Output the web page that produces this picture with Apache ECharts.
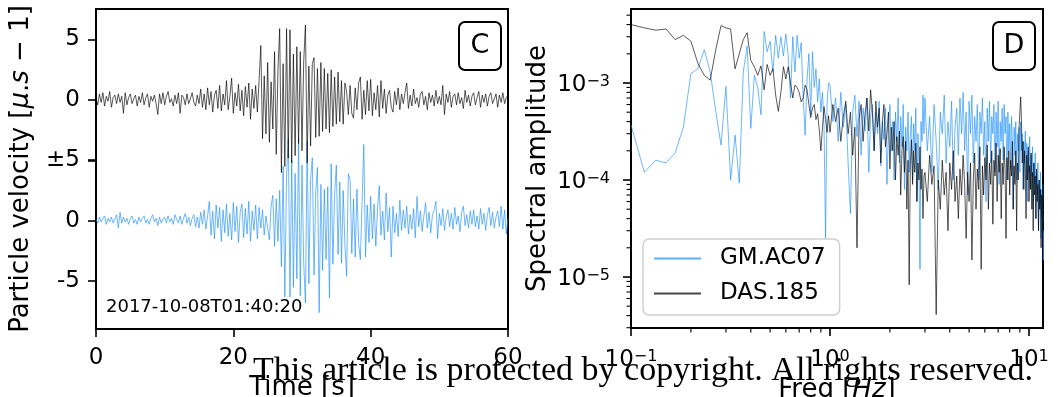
<!DOCTYPE html>
<html><head><meta charset="utf-8">
<script src="https://cdn.jsdelivr.net/npm/echarts@6/dist/echarts.min.js"></script>
<style>html,body{margin:0;padding:0;background:#fff}#chart{width:1058px;height:397px}</style>
</head><body><div id="chart"></div>
<script>
const FONT = 'DejaVu Sans';

// ---- Panel C: waveforms (micro m/s), sampled every TIME_STEP seconds ----
const TIME_STEP = 0.25;
const dasVelocity = [
 0.1,-0.4,0.5,-0.2,0.6,-0.5,0.3,-0.1,0.7,-0.6,0.2,0.4,-0.3,0.5,-0.2,0.3,-1.1,0.6,-0.4,0.2,
 0.5,-0.3,0.1,0.4,-0.5,0.3,-0.2,0.6,-0.4,0.2,0.5,-0.6,0.3,-0.1,0.4,-0.3,-1.2,0.5,-0.3,0.6,
 -0.4,0.3,0.7,-0.2,0.1,-0.5,0.4,-0.3,0.6,-1.1,0.4,0.2,-0.4,0.5,-0.3,0.1,0.6,-0.2,-0.5,0.4,
 -0.3,0.9,-0.6,0.5,-0.8,1.0,-0.4,0.7,-1.0,0.4,0.8,-0.7,1.2,-0.9,0.5,-0.4,1.6,-0.8,0.3,1.8,
 -1.1,0.6,-0.5,1.3,-0.9,0.8,-1.3,1.1,-0.6,1.4,-1.6,0.9,-0.7,1.2,-1.0,1.6,4.5,-3.2,2.0,-2.8,
 3.1,-3.5,1.5,-2.4,4.0,-4.5,2.5,5.9,-6.0,3.0,-5.5,5.9,-4.8,5.8,-5.2,3.8,-4.6,4.4,-3.6,4.0,
 -4.2,3.2,6.2,-5.2,2.8,-3.8,3.0,3.5,-3.1,2.6,-3.0,3.1,-2.6,2.6,-2.4,2.2,-2.7,2.5,-2.2,1.9,
 -2.0,2.3,-1.8,1.6,-2.0,1.4,0.7,-1.2,1.2,-1.1,-1.5,1.0,-0.8,1.4,1.9,-1.6,0.8,-1.2,1.6,-0.9,
 1.7,-1.3,0.6,-0.8,1.2,-1.4,1.6,-0.7,0.9,-1.1,0.4,0.8,-0.6,-1.0,0.7,-0.4,1.0,-0.8,0.5,-0.3,
 0.6,1.4,-0.7,0.4,-0.5,0.9,-0.3,0.2,-0.6,0.5,0.7,-0.4,0.3,-0.8,0.6,-0.2,0.4,-0.5,0.8,-0.3,
 0.3,-0.4,1.2,-1.2,0.5,-0.2,0.7,-0.6,0.3,0.5,-0.4,0.6,-0.3,0.2,-0.7,0.8,-0.2,0.4,-0.5,0.3,
 0.6,-0.4,0.2,0.7,-0.6,0.4,-0.2,0.5,-0.5,0.3,0.6,-0.3,0.1,0.5,-0.6,0.4,-0.2,0.6,-0.3,0.2,0.4
];
const gmVelocity = [
 0.1,-0.2,0.3,-0.1,0.2,0.4,-0.3,0.2,-0.1,0.3,-0.2,0.1,0.5,-0.6,0.7,-0.2,0.3,-0.1,0.2,-0.3,
 0.2,0.4,-0.2,0.1,-0.3,0.3,-0.1,0.2,0.4,-0.2,0.1,-0.3,0.2,0.5,-0.1,0.2,-0.4,0.3,-0.2,0.1,
 0.3,-0.2,0.4,-0.1,0.2,-0.3,0.5,0.1,-0.2,0.4,-0.3,0.2,0.6,-0.2,0.3,-0.4,0.2,0.5,-0.5,0.3,
 -0.6,0.7,-0.3,0.9,-0.7,0.4,1.6,-1.2,0.8,-1.5,1.3,-0.6,1.1,-1.7,0.9,-1.0,1.4,-1.3,0.6,-1.6,
 1.5,-0.9,1.2,-1.8,0.7,1.4,-1.4,1.0,-1.1,1.6,-1.7,0.8,-0.8,1.3,-1.5,1.1,-0.6,0.9,-1.2,0.4,
 0.5,-1.6,1.2,2.1,-2.1,1.8,-1.7,2.5,-3.8,4.5,-6.3,3.6,6.8,-6.3,5.0,-5.5,3.9,-4.8,6.8,-6.2,
 4.6,-3.5,-6.8,6.6,-5.2,3.4,5.2,-4.5,2.4,4.4,-7.6,3.0,-4.1,2.6,-3.2,2.8,-6.4,4.7,-3.6,2.2,
 4.6,-2.8,3.2,-3.5,2.5,-2.0,-4.6,3.9,3.4,-2.7,1.8,-3.0,2.6,-1.9,-3.2,1.6,6.3,-3.0,1.3,-1.8,
 2.0,-1.5,1.4,-2.1,1.0,2.9,-1.2,0.8,-1.6,2.3,-0.9,1.1,-3.0,1.2,-1.0,0.6,-1.3,1.7,-0.8,0.9,
 -0.6,1.2,-1.1,0.5,-0.7,1.0,-1.4,2.0,-0.5,0.8,-0.9,0.4,1.5,-0.6,0.7,-1.0,0.5,0.9,1.6,-1.5,
 0.6,-0.4,1.0,-0.8,0.3,0.9,-0.5,0.6,-0.7,1.1,-0.3,0.4,-0.9,0.7,1.2,-0.4,0.5,-0.6,0.8,-0.3,
 0.9,-0.5,0.4,-0.7,1.0,-0.3,0.6,-0.8,0.5,1.1,-0.4,0.7,-0.6,0.3,0.8,-0.5,1.2,-0.7,0.9,-1.1,0.2
];
const timeTicks = [0, 20, 40, 60];
const velocityTicks = [-5, 0, 5];
const startTimeLabel = '2017-10-08T01:40:20';

// ---- Panel D: spectra, frequency bins k/60 Hz (segments: first k, last k, k step) ----
const FREQ_RES = 1 / 60;
const freqSegments = [[6, 59, 1], [60, 178, 2], [180, 720, 5]];
const AMP_UNIT = 1e-4;
const gmSpectrum = [
 3.7,1.2,1.6,1.5,1.9,3.5,12.5,14,22,13,
 5.1,2.3,9.2,1.0,2.9,0.93,13,24,3.4,12,
 9,4.7,34,21,27,13,31,18,30,19,
 32,19,7,30,13,31,18,26,7,2.9,
 11,20,4.7,21,9,14,6.4,11,5,8,
 3.5,0.25,6,10,
 9.5,4.0,7.0,2.5,8.0,3.5,6.0,1.5,0.45,5.0,
 7.5,2.8,6.5,1.8,5.5,3.2,7.0,1.2,4.5,6.0,
 2.0,5.0,3.0,6.5,1.4,4.0,2.6,5.5,0.9,3.5,
 6.0,2.0,4.0,1.0,5.0,2.5,7.0,1.5,4.5,2.2,
 6.0,0.8,3.5,2.0,5.0,1.2,3.0,4.5,1.0,3.8,
 2.0,5.5,0.6,3.0,1.5,0.12,4.0,2.5,7.5,3.0,
 7.0,2.0,4.5,1.2,6.0,2.5,0.8,5.0,3.0,7.5,1.5,4.0,
 2.2,6.5,1.0,3.5,5.5,1.8,7.0,3.0,8.0,2.0,5.0,0.7,
 6.5,3.0,7.5,1.5,4.5,2.5,6.0,1.0,5.0,3.0,7.0,1.8,
 4.0,0.6,5.5,2.5,6.5,1.5,4.5,3.0,6.0,1.2,5.0,2.2,
 6.5,0.9,4.0,2.5,5.5,1.6,6.0,3.0,4.5,1.0,5.0,2.0,
 3.8,1.3,4.5,2.5,0.5,3.5,1.8,4.0,1.0,3.0,2.0,3.5,
 1.2,4.0,2.0,3.0,0.8,2.5,1.5,3.2,1.0,2.4,0.6,2.0,
 1.2,2.8,0.8,1.8,1.1,2.2,0.5,1.5,0.9,1.9,0.4,1.2,
 0.7,1.5,0.3,1.0,0.5,1.2,0.25,0.8,0.4,0.9,0.15,0.5,
 0.07
];
const dasSpectrum = [
 40,37,35,36,28,31,27,16,12,10.7,
 22,39,37,36,14,20,28,33,17,14.7,
 12,15,8.5,15.5,12,14,7.5,5.1,8,14.7,
 11,14.7,10,7,9.5,9,8,6.4,7,9.5,
 8.5,6,4.4,5.5,6,4.2,4.8,3.3,2.0,3.5,
 5.7,4.2,3.1,4.6,
 3.1,6.0,4.0,5.5,2.5,4.5,6.5,3.0,5.0,1.8,
 3.5,0.2,4.2,6.0,2.5,4.8,7.0,3.2,8.5,5.0,
 2.0,6.5,3.5,5.5,1.5,4.0,6.0,2.2,3.0,5.0,
 1.3,3.5,2.0,4.0,1.0,2.8,1.8,3.2,0.7,2.0,
 2.8,1.2,2.5,0.5,1.6,0.083,1.4,2.6,0.9,2.0,
 1.2,2.4,0.6,1.5,1.0,2.2,0.8,1.3,0.4,1.1,
 1.2,0.6,1.8,0.9,1.4,0.041,1.0,0.5,1.6,0.7,1.2,0.3,
 1.5,0.8,2.0,0.6,1.1,0.4,1.3,0.7,1.8,0.9,0.25,1.2,
 0.6,1.5,0.15,1.0,1.9,0.5,1.3,0.8,2.2,0.12,1.4,0.7,
 1.7,1.0,2.3,0.5,1.5,0.9,2.0,0.35,1.6,1.1,2.4,0.6,
 1.8,1.2,2.1,0.4,1.5,0.9,2.2,1.3,0.25,1.7,1.0,2.0,
 0.7,1.6,1.1,2.5,0.5,1.4,0.9,2.0,0.3,1.5,1.0,3.5,
 5.0,7.2,4.0,1.5,2.5,0.8,2.0,1.2,0.4,1.8,1.0,2.2,
 0.6,1.4,0.8,1.9,0.5,1.2,0.3,1.5,0.7,1.1,0.4,1.3,
 0.6,0.9,0.3,1.0,0.5,0.8,0.2,0.7,0.4,0.9,0.3,0.6,
 0.4
];
const freqRange = [0.1, 11.76];
const ampRange = [2.98e-6, 5.79e-3];
const freqMinorTicks = [0.2,0.3,0.4,0.5,0.6,0.7,0.8,0.9,2,3,4,5,6,7,8,9];
const ampMinorTicks = [3e-6,4e-6,5e-6,6e-6,7e-6,8e-6,9e-6,
  2e-5,3e-5,4e-5,5e-5,6e-5,7e-5,8e-5,9e-5,
  2e-4,3e-4,4e-4,5e-4,6e-4,7e-4,8e-4,9e-4,
  2e-3,3e-3,4e-3,5e-3];
const legendNames = ['GM.AC07', 'DAS.185'];

// ---- build data ----
const dasWave = dasVelocity.map((v, i) => [i * TIME_STEP, v]);
const gmWave = gmVelocity.map((v, i) => [i * TIME_STEP, v]);
const freqs = [];
freqSegments.forEach(([a, b, s]) => { for (let k = a; k <= b; k += s) freqs.push(k * FREQ_RES); });
const gmSpec = gmSpectrum.map((v, i) => [freqs[i], v * AMP_UNIT]);
const dasSpec = dasSpectrum.map((v, i) => [freqs[i], v * AMP_UNIT]);

const BLUE = 'rgba(30,144,255,0.72)';
const GREY = 'rgba(0,0,0,0.72)';
const axisLine = {show: true, onZero: false, lineStyle: {color: '#000', width: 2}};
const majorTick = {show: true, length: 8, lineStyle: {color: '#000', width: 1.6}};
const MINOR_LEN = 4.5;

function sciLabel(value) {
  const e = Math.round(Math.log10(value));
  return '{b|10}{s|' + String(e).replace('-', '\u2212') + '}';
}
const sciRich = {
  b: {fontSize: 23, fontFamily: FONT, color: '#000', verticalAlign: 'bottom', padding: [5, 0, 0, 0]},
  s: {fontSize: 16, fontFamily: FONT, color: '#000', verticalAlign: 'bottom', padding: [0, 0, 7, 0]}
};

// minor log ticks, placed through the axes' own scales
function minorTickSeries(values, isY) {
  return {
    type: 'custom', xAxisIndex: 1, yAxisIndex: 2, silent: true, z: 6, clip: false,
    data: values.map(v => (isY ? [freqRange[0], v] : [v, ampRange[0]])),
    renderItem: (params, api) => {
      const p = api.coord([api.value(0), api.value(1)]);
      const shape = isY ? {x1: p[0] - MINOR_LEN, y1: p[1], x2: p[0], y2: p[1]}
                        : {x1: p[0], y1: p[1], x2: p[0], y2: p[1] + MINOR_LEN};
      return {type: 'line', shape, style: {stroke: '#000', lineWidth: 1.1}};
    }
  };
}

const option = {
  animation: false,
  backgroundColor: '#fff',
  textStyle: {fontFamily: FONT},
  grid: [
    {left: 96, top: 9, width: 412, height: 320, show: true, borderColor: '#000', borderWidth: 2,
     containLabel: false, outerBoundsMode: 'none'},
    {left: 631, top: 9, width: 412, height: 319, show: true, borderColor: '#000', borderWidth: 2,
     containLabel: false, outerBoundsMode: 'none'}
  ],
  xAxis: [
    {gridIndex: 0, type: 'value', min: timeTicks[0], max: timeTicks[timeTicks.length - 1], interval: 20,
     position: 'bottom', axisLine, axisTick: majorTick, splitLine: {show: false},
     axisLabel: {fontSize: 23, color: '#000', margin: 18, fontFamily: FONT},
     name: 'Time [s]', nameLocation: 'middle', nameGap: 38,
     nameTextStyle: {fontSize: 26, color: '#000', fontFamily: FONT}},
    {gridIndex: 1, type: 'log', logBase: 10, min: freqRange[0], max: freqRange[1], position: 'bottom',
     axisLine, axisTick: majorTick, splitLine: {show: false}, minorTick: {show: false},
     axisLabel: {formatter: sciLabel, showMaxLabel: false, showMinLabel: true, margin: 16, rich: sciRich},
     name: '{a|Freq [}{i|Hz}{a|]}', nameLocation: 'middle', nameGap: 48,
     nameTextStyle: {rich: {
       a: {fontSize: 26, color: '#000', fontFamily: FONT},
       i: {fontSize: 26, color: '#000', fontFamily: FONT, fontStyle: 'italic'}}}}
  ],
  yAxis: [
    {gridIndex: 0, type: 'value', min: -18.93, max: 7.52, position: 'left', offset: 0,
     axisLine, splitLine: {show: false},
     axisTick: Object.assign({}, majorTick, {customValues: velocityTicks}),
     axisLabel: {customValues: velocityTicks, fontSize: 23, color: '#000', margin: 16, fontFamily: FONT,
       formatter: v => (v === -5 ? '\u00b15' : String(v))},
     name: '{n|Particle velocity [}{i|\u03bc}{n|.}{i|s}{n| \u2212 1]}', nameLocation: 'middle', nameGap: 62,
     nameTextStyle: {rich: {
       n: {fontSize: 26, color: '#000', fontFamily: FONT},
       i: {fontSize: 26, color: '#000', fontFamily: FONT, fontStyle: 'italic'}}}},
    {gridIndex: 0, type: 'value', min: -8.95, max: 17.5, position: 'left', offset: 0,
     axisLine, splitLine: {show: false},
     axisTick: Object.assign({}, majorTick, {customValues: velocityTicks}),
     axisLabel: {customValues: [-5, 0], fontSize: 23, color: '#000', margin: 16, fontFamily: FONT}},
    {gridIndex: 1, type: 'log', logBase: 10, min: ampRange[0], max: ampRange[1], position: 'left',
     axisLine, axisTick: majorTick, splitLine: {show: false},
     axisLabel: {formatter: sciLabel, showMaxLabel: false, showMinLabel: false, margin: 21, rich: sciRich},
     name: 'Spectral amplitude', nameLocation: 'middle', nameGap: 80,
     nameTextStyle: {fontSize: 26, color: '#000', fontFamily: FONT}}
  ],
  legend: {
    data: legendNames, orient: 'vertical', left: 643, top: 239,
    itemWidth: 47, itemHeight: 14, itemGap: 12, selectedMode: false,
    padding: [8, 14, 10, 10],
    itemStyle: {color: 'rgba(0,0,0,0)', borderColor: 'rgba(0,0,0,0)', borderWidth: 0},
    backgroundColor: 'rgba(255,255,255,0.8)', borderColor: '#cfcfcf', borderWidth: 1.5, borderRadius: 6,
    textStyle: {fontSize: 23, color: '#000', fontFamily: FONT, padding: [0, 0, 0, 14]}
  },
  series: [
    {name: 'DAS.185 velocity', type: 'line', xAxisIndex: 0, yAxisIndex: 0, data: dasWave,
     symbol: 'none', lineStyle: {color: GREY, width: 0.9}, itemStyle: {color: GREY}, z: 3},
    {name: 'GM.AC07 velocity', type: 'line', xAxisIndex: 0, yAxisIndex: 1, data: gmWave,
     symbol: 'none', lineStyle: {color: BLUE, width: 0.9}, itemStyle: {color: BLUE}, z: 2},
    {name: legendNames[0], type: 'line', xAxisIndex: 1, yAxisIndex: 2, data: gmSpec,
     symbol: 'none', lineStyle: {color: BLUE, width: 0.9}, itemStyle: {color: BLUE}, z: 2},
    {name: legendNames[1], type: 'line', xAxisIndex: 1, yAxisIndex: 2, data: dasSpec,
     symbol: 'none', lineStyle: {color: GREY, width: 0.9}, itemStyle: {color: GREY}, z: 3},
    minorTickSeries(ampMinorTicks, true),
    minorTickSeries(freqMinorTicks, false)
  ],
  graphic: [
    {type: 'text', z: 20, style: {text: startTimeLabel, x: 106, y: 307, fontSize: 18, fontFamily: FONT,
      fill: '#000', align: 'left', verticalAlign: 'middle'}},
    {type: 'rect', z: 20, shape: {x: 459, y: 22, width: 42, height: 48, r: 6},
     style: {fill: '#fff', stroke: '#000', lineWidth: 2}},
    {type: 'text', z: 21, style: {text: 'C', x: 480, y: 46, fontSize: 27, fontFamily: FONT, fill: '#000',
      align: 'center', verticalAlign: 'middle'}},
    {type: 'rect', z: 20, shape: {x: 993, y: 22, width: 42, height: 48, r: 6},
     style: {fill: '#fff', stroke: '#000', lineWidth: 2}},
    {type: 'text', z: 21, style: {text: 'D', x: 1014, y: 46, fontSize: 27, fontFamily: FONT, fill: '#000',
      align: 'center', verticalAlign: 'middle'}},
    {type: 'text', z: 100, style: {text: 'This article is protected by copyright. All rights reserved.',
      x: 253, y: 371, fontSize: 34, fontFamily: 'Liberation Serif', fill: '#000',
      align: 'left', verticalAlign: 'middle'}}
  ]
};

const chart = echarts.init(document.getElementById('chart'), null, {renderer: 'canvas'});
chart.setOption(option);
</script>
</body></html>
